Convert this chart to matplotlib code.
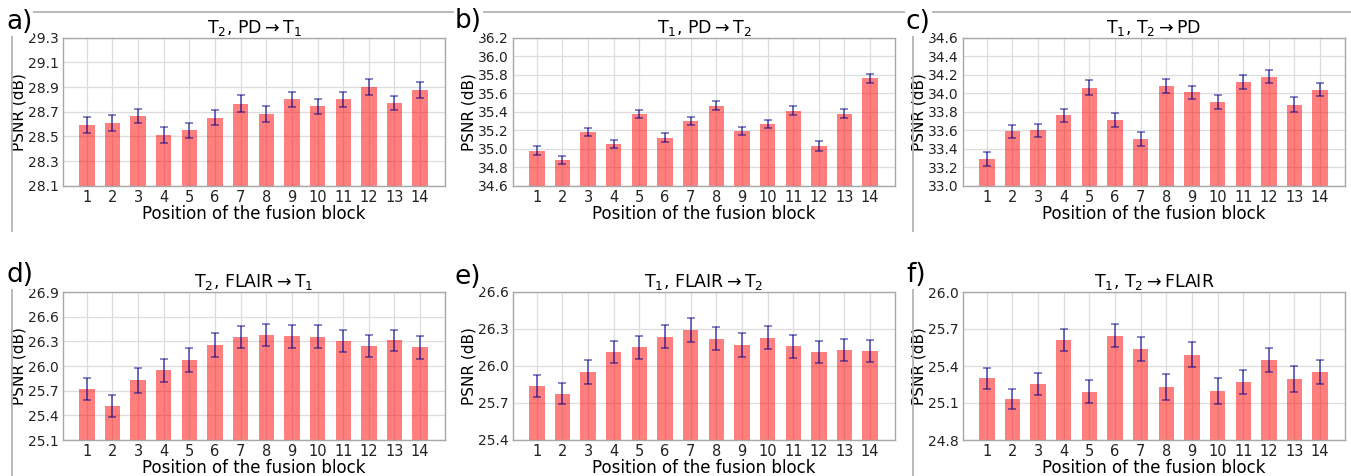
import matplotlib
matplotlib.use("Agg")
import matplotlib.pyplot as plt
from matplotlib.lines import Line2D
import numpy as np

positions = list(range(1, 15))

titles = [r"$\mathregular{T_2}$, PD$\rightarrow$T$_1$",
          r"$\mathregular{T_1}$, PD$\rightarrow$T$_2$",
          r"$\mathregular{T_1}$, T$_2$$\rightarrow$PD",
          r"$\mathregular{T_2}$, FLAIR$\rightarrow$T$_1$",
          r"$\mathregular{T_1}$, FLAIR$\rightarrow$T$_2$",
          r"$\mathregular{T_1}$, T$_2$$\rightarrow$FLAIR"]
letters = ["a)", "b)", "c)", "d)", "e)", "f)"]

psnr_a = [28.59, 28.61, 28.665, 28.51, 28.55, 28.65, 28.765, 28.68, 28.80, 28.745, 28.80, 28.90, 28.77, 28.875]
err_a = [0.064, 0.063, 0.06, 0.063, 0.06, 0.06, 0.07, 0.065, 0.06, 0.06, 0.06, 0.065, 0.055, 0.065]

psnr_b = [34.98, 34.875, 35.18, 35.05, 35.375, 35.12, 35.30, 35.465, 35.19, 35.265, 35.41, 35.03, 35.38, 35.76]
err_b = [0.045, 0.045, 0.04, 0.045, 0.045, 0.05, 0.045, 0.05, 0.04, 0.045, 0.05, 0.05, 0.045, 0.05]

psnr_c = [33.29, 33.587, 33.60, 33.76, 34.06, 33.71, 33.505, 34.077, 34.01, 33.905, 34.124, 34.18, 33.876, 34.04]
err_c = [0.075, 0.07, 0.07, 0.07, 0.08, 0.075, 0.075, 0.075, 0.07, 0.075, 0.075, 0.07, 0.08, 0.07]

psnr_d = [25.724, 25.518, 25.826, 25.947, 26.073, 26.26, 26.353, 26.381, 26.361, 26.357, 26.304, 26.243, 26.312, 26.227]
err_d = [0.135, 0.135, 0.15, 0.14, 0.15, 0.145, 0.135, 0.135, 0.14, 0.14, 0.135, 0.135, 0.13, 0.14]

psnr_e = [25.84, 25.776, 25.951, 26.116, 26.151, 26.238, 26.289, 26.222, 26.17, 26.23, 26.159, 26.116, 26.127, 26.122]
err_e = [0.09, 0.085, 0.095, 0.09, 0.095, 0.095, 0.097, 0.095, 0.095, 0.095, 0.095, 0.09, 0.09, 0.09]

psnr_f = [25.30, 25.132, 25.251, 25.611, 25.192, 25.646, 25.538, 25.23, 25.492, 25.197, 25.27, 25.446, 25.295, 25.351]
err_f = [0.084, 0.08, 0.09, 0.09, 0.095, 0.092, 0.095, 0.105, 0.1, 0.105, 0.1, 0.097, 0.105, 0.1]

ylims = [(28.1, 29.3), (34.6, 36.2), (33.0, 34.6), (25.1, 26.9), (25.4, 26.6), (24.8, 26.0)]
ysteps = [0.2, 0.2, 0.2, 0.3, 0.3, 0.3]

values = [psnr_a, psnr_b, psnr_c, psnr_d, psnr_e, psnr_f]
errors = [err_a, err_b, err_c, err_d, err_e, err_f]

W, H = 1351, 476
fig = plt.figure(figsize=(W / 100, H / 100), dpi=100)

def fx(px):
    return px / W

def fy(py):
    return 1 - py / H

# frame decoration lines
frame_col = "#b4b4b4"
fig.add_artist(Line2D([fx(12), fx(1351)], [fy(12), fy(12)], color=frame_col, lw=1.3))
fig.add_artist(Line2D([fx(12), fx(12)], [fy(12), fy(231)], color=frame_col, lw=1.3))
fig.add_artist(Line2D([fx(913), fx(913)], [fy(12), fy(231)], color=frame_col, lw=1.3))
fig.add_artist(Line2D([fx(12), fx(12)], [fy(262), fy(476)], color=frame_col, lw=1.3))
fig.add_artist(Line2D([fx(913), fx(913)], [fy(262), fy(476)], color=frame_col, lw=1.3))

lefts = [63, 513, 963]
axw = 382
rows = [(37.7, 185.7), (292, 440)]
letter_pos = [(6, 9), (455, 8), (906, 9), (6, 262), (455, 264), (906, 262)]

for i in range(6):
    r, c = divmod(i, 3)
    top, bot = rows[r]
    ax = fig.add_axes([fx(lefts[c]), fy(bot), axw / W, (bot - top) / H])
    ax.bar(positions, values[i], width=0.6, color="red", alpha=0.5, zorder=2)
    ax.errorbar(positions, values[i], yerr=errors[i], fmt="none", ecolor="darkblue",
                alpha=0.55, capsize=3, elinewidth=1.4, capthick=1.2, zorder=3)
    lo, hi = ylims[i]
    ax.set_ylim(lo, hi)
    ticks = np.arange(lo, hi + 1e-6, ysteps[i])
    ax.set_yticks(ticks)
    ax.set_yticklabels([f"{v:.1f}" for v in ticks])
    ax.set_xticks(positions)
    ax.set_xlim(0.07, 14.97)
    ax.grid(True, color="#dddddd", lw=0.9, zorder=0)
    ax.set_axisbelow(True)
    for s in ax.spines.values():
        s.set_color("#a8a8a8")
        s.set_linewidth(1.0)
    ax.tick_params(axis="y", length=0, labelsize=10, pad=3, colors="#222222")
    ax.tick_params(axis="x", length=0, labelsize=10.5, pad=3, colors="#222222")
    ax.set_title(titles[i], fontsize=12.5, pad=2)
    ax.set_ylabel("PSNR (dB)", fontsize=11, labelpad=1)
    ax.set_xlabel("Position of the fusion block", fontsize=12, labelpad=0)
    lx, ly = letter_pos[i]
    fig.text(fx(lx), fy(ly), letters[i], fontsize=19, va="top", ha="left",
             bbox=dict(facecolor="white", edgecolor="none", pad=0.5))

fig.savefig("out.png", dpi=100)
